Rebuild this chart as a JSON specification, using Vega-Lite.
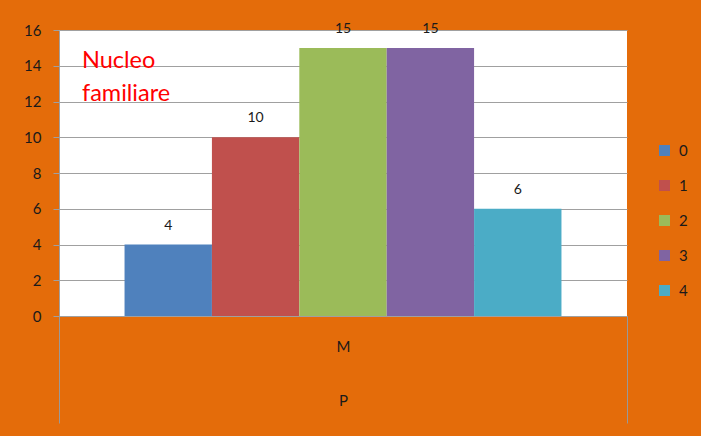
{
  "$schema": "https://vega.github.io/schema/vega-lite/v6.json",
  "width": 568,
  "height": 286,
  "autosize": {"type": "none"},
  "padding": {"left": 59, "top": 30, "right": 74, "bottom": 120},
  "background": "#E46C0A",
  "config": {"view": {"fill": "white", "stroke": null}, "font": "Lato"},
  "title": {
    "text": ["Nucleo", "familiare"],
    "anchor": "start",
    "frame": "group",
    "orient": "top",
    "color": "#FF0000",
    "fontSize": 23.5,
    "fontWeight": "normal",
    "lineHeight": 33,
    "offset": 0,
    "dx": 23,
    "dy": 84,
    "font": "Lato"
  },
  "data": {
    "values": [
      {"gruppo": "M", "nucleo": "0", "valore": 4},
      {"gruppo": "M", "nucleo": "1", "valore": 10},
      {"gruppo": "M", "nucleo": "2", "valore": 15},
      {"gruppo": "M", "nucleo": "3", "valore": 15},
      {"gruppo": "M", "nucleo": "4", "valore": 6}
    ]
  },
  "encoding": {
    "x": {
      "field": "gruppo",
      "type": "nominal",
      "scale": {"paddingInner": 0, "paddingOuter": 0},
      "axis": {
        "title": "P",
        "titleY": 84,
        "titleBaseline": "middle",
        "titleFontWeight": "normal",
        "titleFontSize": 15,
        "titleColor": "#1A1A1A",
        "labelAngle": 0,
        "labelFontSize": 15,
        "labelColor": "#1A1A1A",
        "labelPadding": -84,
        "tickBand": "extent",
        "tickSize": 107,
        "tickColor": "#999999",
        "domainColor": "#A0A0A0",
        "grid": false
      }
    },
    "xOffset": {
      "field": "nucleo",
      "type": "nominal",
      "scale": {"paddingInner": 0, "paddingOuter": 0.75}
    },
    "y": {
      "field": "valore",
      "type": "quantitative",
      "scale": {"domain": [0, 16]},
      "axis": {
        "title": null,
        "tickCount": 8,
        "grid": true,
        "gridColor": "#A0A0A0",
        "tickColor": "#A0A0A0",
        "domainColor": "#A0A0A0",
        "tickSize": 6,
        "labelPadding": 12,
        "labelFontSize": 15,
        "labelColor": "#1A1A1A"
      }
    }
  },
  "layer": [
    {
      "mark": {"type": "bar"},
      "encoding": {
        "color": {
          "field": "nucleo",
          "type": "nominal",
          "scale": {"range": ["#4F81BD", "#C0504D", "#9BBB59", "#8064A2", "#4BACC6"]},
          "legend": {
            "title": null,
            "orient": "none",
            "legendX": 598,
            "legendY": 113,
            "symbolType": "square",
            "symbolSize": 121,
            "symbolStrokeWidth": 0,
            "labelFontSize": 15,
            "labelColor": "#1A1A1A",
            "labelOffset": 7,
            "rowPadding": 19
          }
        }
      }
    },
    {
      "mark": {"type": "text", "baseline": "middle", "dy": -19, "fontSize": 14, "color": "#1A1A1A"},
      "encoding": {"text": {"field": "valore", "type": "quantitative"}}
    }
  ]
}
